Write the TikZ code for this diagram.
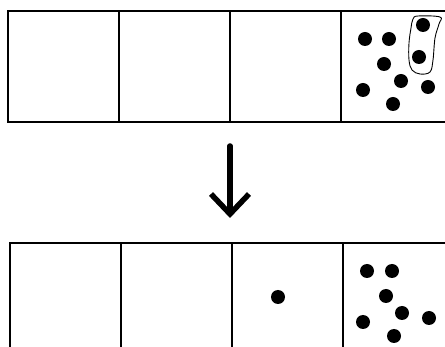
\documentclass[tikz,border=0pt]{standalone}
\usetikzlibrary{arrows.meta}
\begin{document}
\begin{tikzpicture}[x=1pt,y=-1pt,
  cell/.style={draw,line width=2.8pt,minimum width=111pt,minimum height=111pt,inner sep=0pt},
  dot/.style={fill=black}]
\useasboundingbox (0,0) rectangle (445,347);
\clip (0,0) rectangle (445,347);
\node[cell] (t1) at (63.5,66.5) {};
\node[cell] (t2) at (174.5,66.5) {};
\node[cell] (t3) at (285.5,66.5) {};
\node[cell] (t4) at (396.5,66.5) {};
\node[cell] (b1) at (65.5,298.5) {};
\node[cell] (b2) at (176.5,298.5) {};
\node[cell] (b3) at (287.5,298.5) {};
\node[cell] (b4) at (398.5,298.5) {};
\fill[dot] (365,39) circle (7);
\fill[dot] (389,39) circle (7);
\fill[dot] (423,25) circle (7);
\fill[dot] (419,57) circle (7);
\fill[dot] (384,64) circle (7);
\fill[dot] (401,81) circle (7);
\fill[dot] (363,90) circle (7);
\fill[dot] (428,87) circle (7);
\fill[dot] (393,104) circle (7);
\draw[line width=0.9pt] plot[smooth cycle,tension=0.6] coordinates
  {(413,19) (418,16) (440,17) (439,24) (435,38) (433,60) (430,72) (420,74) (412,70) (409,60) (409,43) (411,28)};
\coordinate (from) at (230,146);
\coordinate (to) at (230,218);
\draw[line width=5.5pt,line cap=round,-{Straight Barb[length=20pt,width=38pt]}] (from) -- (to);
\fill[dot] (278,297) circle (7);
\fill[dot] (367,271) circle (7);
\fill[dot] (392,271) circle (7);
\fill[dot] (386,296) circle (7);
\fill[dot] (402,313) circle (7);
\fill[dot] (363,322) circle (7);
\fill[dot] (429,318) circle (7);
\fill[dot] (394,336) circle (7);
\end{tikzpicture}
\end{document}
